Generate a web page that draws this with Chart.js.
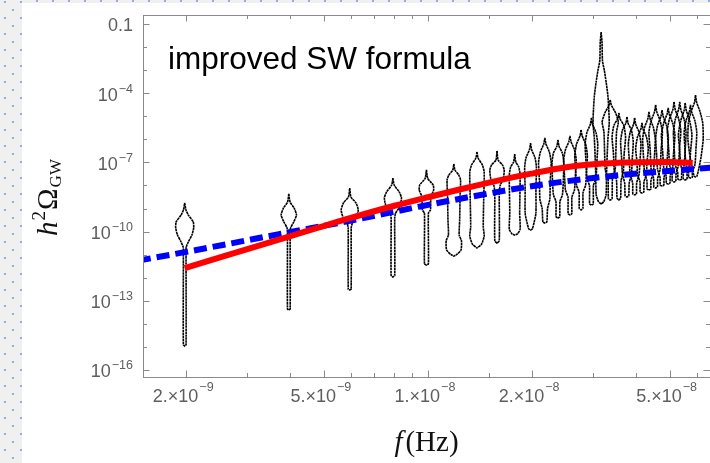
<!DOCTYPE html>
<html>
<head>
<meta charset="utf-8">
<script src="https://cdn.jsdelivr.net/npm/chart.js@4.4.0/dist/chart.umd.min.js"></script>
<style>
  html, body { margin: 0; padding: 0; background: #fff; }
  #wrap { width: 710px; height: 463px; }
</style>
</head>
<body>
<div id="wrap"><canvas id="chart" width="710" height="463"></canvas></div>
<script>
// PTA frequency bins (Hz), one violin each
const binFreqs = [1.98e-9, 3.96e-9, 5.94e-9, 7.92e-9, 9.90e-9, 1.188e-8, 1.386e-8, 1.584e-8, 1.782e-8, 1.98e-8,
  2.178e-8, 2.376e-8, 2.574e-8, 2.772e-8, 2.97e-8, 3.168e-8, 3.366e-8, 3.564e-8, 3.762e-8, 3.96e-8,
  4.158e-8, 4.356e-8, 4.554e-8, 4.752e-8, 4.95e-8, 5.148e-8, 5.346e-8, 5.544e-8, 5.742e-8, 5.94e-8];

// violin outlines, top to bottom: [log10 h^2 Omega, relative density width]
const violinProfiles = [
  [[-8.76,0],[-9.06,0.14],[-9.28,0.4],[-9.58,0.95],[-9.84,1.0],[-10.15,0.8],[-10.45,0.4],[-10.67,0.17],[-11.0,0.15],[-14.9,0.15],[-14.96,0]],
  [[-8.37,0],[-8.72,0.14],[-8.98,0.6],[-9.28,0.85],[-9.58,0.55],[-9.84,0.2],[-10.1,0.15],[-13.35,0.15],[-13.40,0]],
  [[-8.11,0],[-8.50,0.14],[-8.76,0.7],[-9.06,0.95],[-9.37,0.75],[-9.63,0.3],[-9.84,0.17],[-12.5,0.16],[-12.53,0]],
  [[-7.68,0],[-7.98,0.14],[-8.28,0.7],[-8.54,0.95],[-8.93,0.75],[-9.2,0.3],[-9.4,0.2],[-11.9,0.2],[-11.97,0]],
  [[-7.33,0],[-7.70,0.15],[-7.98,0.75],[-8.2,0.8],[-8.5,0.5],[-9.06,0.45],[-9.2,0.22],[-11.4,0.22],[-11.45,0]],
  [[-7.07,0],[-7.33,0.12],[-7.55,0.55],[-7.76,0.75],[-8.4,0.7],[-9.5,0.65],[-10.15,0.6],[-10.4,0.85],[-10.8,0.8],[-11.0,0.3],[-11.06,0]],
  [[-6.55,0],[-6.81,0.12],[-7.11,0.6],[-7.42,0.8],[-8.6,0.75],[-9.8,0.7],[-10.2,0.8],[-10.55,0.5],[-10.71,0]],
  [[-6.5,0],[-6.9,0.12],[-7.11,0.6],[-7.33,0.8],[-7.7,0.7],[-8.0,0.35],[-8.3,0.25],[-10.4,0.25],[-10.5,0]],
  [[-6.64,0],[-6.98,0.12],[-7.2,0.45],[-7.55,0.6],[-9.2,0.55],[-9.9,0.6],[-10.1,0.3],[-10.15,0]],
  [[-6.16,0],[-6.45,0.12],[-6.8,0.5],[-7.2,0.65],[-8.2,0.6],[-9.2,0.6],[-9.6,0.4],[-9.88,0.2],[-9.93,0]],
  [[-5.94,0],[-6.2,0.12],[-6.55,0.5],[-7.0,0.7],[-7.8,0.6],[-8.6,0.55],[-9.0,0.3],[-9.58,0.22],[-9.63,0]],
  [[-6.03,0],[-6.3,0.12],[-6.6,0.5],[-7.0,0.65],[-7.8,0.6],[-8.4,0.5],[-8.7,0.22],[-9.36,0.2],[-9.41,0]],
  [[-5.85,0],[-6.1,0.12],[-6.45,0.5],[-6.9,0.7],[-7.6,0.6],[-8.2,0.5],[-8.5,0.22],[-9.22,0.2],[-9.28,0]],
  [[-5.59,0],[-5.85,0.12],[-6.2,0.5],[-6.7,0.7],[-7.4,0.6],[-8.0,0.5],[-8.3,0.22],[-9.0,0.2],[-9.06,0]],
  [[-5.07,0],[-5.35,0.12],[-5.7,0.5],[-6.2,0.7],[-7.0,0.6],[-7.7,0.5],[-8.0,0.22],[-8.8,0.2],[-8.85,0]],
  [[-1.35,0],[-1.8,0.1],[-2.6,0.15],[-3.0,0.35],[-3.5,0.55],[-4.1,0.75],[-4.7,0.85],[-5.3,0.9],[-6.0,0.75],[-7.5,0.6],[-8.4,0.55],[-8.7,0.3],[-8.8,0]],
  [[-4.29,0],[-4.51,0.12],[-4.86,0.6],[-5.25,0.9],[-5.68,0.7],[-7.33,0.55],[-7.68,0.25],[-8.58,0.2],[-8.63,0]],
  [[-4.86,0],[-5.1,0.12],[-5.4,0.55],[-5.9,0.75],[-6.6,0.6],[-7.4,0.5],[-7.8,0.25],[-8.55,0.2],[-8.63,0]],
  [[-5.03,0],[-5.3,0.12],[-5.6,0.5],[-6.1,0.7],[-6.8,0.6],[-7.5,0.5],[-7.9,0.25],[-8.45,0.2],[-8.5,0]],
  [[-5.07,0],[-5.35,0.12],[-5.7,0.5],[-6.2,0.7],[-6.9,0.6],[-7.5,0.5],[-7.9,0.22],[-8.37,0.2],[-8.41,0]],
  [[-5.29,0],[-5.55,0.12],[-5.9,0.5],[-6.4,0.7],[-7.0,0.55],[-7.5,0.5],[-7.85,0.22],[-8.29,0.2],[-8.33,0]],
  [[-4.81,0],[-5.1,0.12],[-5.5,0.5],[-6.0,0.7],[-6.8,0.6],[-7.4,0.5],[-7.8,0.22],[-8.16,0.2],[-8.2,0]],
  [[-4.51,0],[-4.8,0.12],[-5.2,0.5],[-5.7,0.75],[-6.5,0.6],[-7.3,0.5],[-7.7,0.22],[-8.07,0.2],[-8.11,0]],
  [[-4.73,0],[-5.0,0.12],[-5.4,0.5],[-5.9,0.7],[-6.7,0.6],[-7.3,0.5],[-7.65,0.22],[-7.98,0.2],[-8.02,0]],
  [[-4.64,0],[-4.9,0.12],[-5.3,0.5],[-5.8,0.75],[-6.6,0.6],[-7.2,0.5],[-7.6,0.22],[-7.9,0.2],[-7.94,0]],
  [[-4.38,0],[-4.7,0.12],[-5.1,0.5],[-5.6,0.75],[-6.4,0.6],[-7.1,0.5],[-7.5,0.22],[-7.81,0.2],[-7.85,0]],
  [[-4.38,0],[-4.7,0.12],[-5.15,0.5],[-5.7,0.7],[-6.5,0.6],[-7.1,0.5],[-7.45,0.22],[-7.72,0.2],[-7.76,0]],
  [[-4.42,0],[-4.75,0.12],[-5.2,0.5],[-5.8,0.75],[-6.5,0.6],[-7.1,0.5],[-7.45,0.22],[-7.72,0.2],[-7.76,0]],
  [[-4.51,0],[-4.8,0.12],[-5.2,0.5],[-5.7,0.7],[-6.5,0.6],[-7.1,0.5],[-7.4,0.22],[-7.64,0.2],[-7.68,0]],
  [[-4.08,0],[-4.4,0.12],[-4.8,0.5],[-5.3,0.8],[-6.0,0.85],[-6.8,0.6],[-7.3,0.35],[-7.6,0.15],[-7.63,0]]
];

// red: improved sound-wave spectrum
const swFreqs = [1.98e-9, 3.94e-9, 5.95e-9, 8.0e-9, 1.0e-8, 1.2e-8, 1.58e-8, 1.97e-8, 2.57e-8, 3.2e-8, 4.0e-8, 5.0e-8, 5.83e-8];
const swLogOmega = [-11.58, -10.23, -9.42, -8.88, -8.51, -8.22, -7.80, -7.50, -7.19, -7.05, -6.99, -6.98, -7.03];

// blue dashed: reference power-law spectrum
const fitFreqs = [1.45e-9, 2.0e-9, 4.0e-9, 6.0e-9, 9.5e-9, 1.32e-8, 2.1e-8, 3.6e-8, 6.6e-8];
const fitLogOmega = [-11.26, -10.88, -10.02, -9.52, -8.91, -8.50, -7.98, -7.55, -7.23];

// axis ticks
const xTickValues = [2e-9, 5e-9, 1e-8, 2e-8, 5e-8];
const xTickMant = ['2.', '5.', '1.', '2.', '5.'];
const xTickExp = ['\u22129', '\u22129', '\u22128', '\u22128', '\u22128'];
const xMinorValues = [3e-9, 4e-9, 6e-9, 7e-9, 8e-9, 9e-9, 1.5e-8, 3e-8, 4e-8, 6e-8];
const yTickValues = [1e-1, 1e-4, 1e-7, 1e-10, 1e-13, 1e-16];
const yTickBase = ['0.1', '10', '10', '10', '10', '10'];
const yTickExp = ['', '\u22124', '\u22127', '\u221210', '\u221213', '\u221216'];
const yMinorValues = [1e-2, 1e-3, 1e-5, 1e-6, 1e-8, 1e-9, 1e-11, 1e-12, 1e-14, 1e-15];

const VIOLIN_HALF = 0.026; // decades of frequency at full density

const violinSets = violinProfiles.map((prof, i) => {
  const f = binFreqs[i];
  const right = prof.map(([l, w]) => ({ x: f * Math.pow(10, w * VIOLIN_HALF), y: Math.pow(10, l) }));
  const left = prof.slice().reverse().map(([l, w]) => ({ x: f * Math.pow(10, -w * VIOLIN_HALF), y: Math.pow(10, l) }));
  return {
    data: right.concat(left),
    showLine: true,
    borderColor: '#000',
    borderWidth: 1.6,
    borderDash: [2.5, 0.5],
    pointRadius: 0,
    fill: false,
    tension: 0.2,
    order: 3,
  };
});

const SANS = '"Liberation Sans", Arial, sans-serif';
const SERIF = '"Liberation Serif", "Times New Roman", serif';

function sciLabel(ctx, base, sup, x, baseY, supY, align) {
  ctx.font = '18px ' + SANS;
  const wb = ctx.measureText(base).width;
  ctx.font = '12.5px ' + SANS;
  const ws = sup ? ctx.measureText(sup).width + 1 : 0;
  const total = wb + ws;
  const x0 = align === 'right' ? x - total : x - total / 2;
  ctx.textAlign = 'left';
  ctx.textBaseline = 'alphabetic';
  ctx.font = '18px ' + SANS;
  ctx.fillText(base, x0, baseY);
  if (sup) {
    ctx.font = '12.5px ' + SANS;
    ctx.fillText(sup, x0 + wb + 1, supY);
  }
}

const decor = {
  id: 'decor',
  beforeDraw(chart) {
    const ctx = chart.ctx;
    ctx.save();
    ctx.fillStyle = '#fff';
    ctx.fillRect(0, 0, chart.width, chart.height);
    ctx.fillStyle = '#f0f0f0';
    ctx.fillRect(0, 0, 22, chart.height);
    ctx.fillRect(0, 0, chart.width, 3);
    ctx.fillStyle = '#92b1da';
    for (let y = 1; y < chart.height; y += 16) { ctx.fillRect(4, y, 2, 2); ctx.fillRect(20, y, 2, 2); }
    for (let y = 9; y < chart.height; y += 16) ctx.fillRect(12, y, 2, 2);
    for (let x = 36; x < chart.width; x += 16) ctx.fillRect(x, 0, 2, 2);
    ctx.restore();
  },
  afterDraw(chart) {
    const ctx = chart.ctx;
    const a = chart.chartArea;
    const xs = chart.scales.x, ys = chart.scales.y;
    ctx.save();
    // frame
    ctx.strokeStyle = '#8a8a8a';
    ctx.lineWidth = 1;
    ctx.strokeRect(Math.round(a.left) + 0.5, Math.round(a.top) + 0.5, a.right - a.left, a.bottom - a.top);
    // ticks
    ctx.beginPath();
    const xt = (v, len) => {
      const p = Math.round(xs.getPixelForValue(v)) + 0.5;
      ctx.moveTo(p, a.bottom); ctx.lineTo(p, a.bottom - len);
      ctx.moveTo(p, a.top); ctx.lineTo(p, a.top + len);
    };
    const yt = (v, len) => {
      const p = Math.round(ys.getPixelForValue(v)) + 0.5;
      ctx.moveTo(a.left, p); ctx.lineTo(a.left + len, p);
      ctx.moveTo(a.right, p); ctx.lineTo(a.right - len, p);
    };
    xTickValues.forEach(v => xt(v, 6.5));
    xMinorValues.forEach(v => xt(v, 4));
    yTickValues.forEach(v => yt(v, 6.5));
    yMinorValues.forEach(v => yt(v, 4));
    ctx.stroke();
    // tick labels
    ctx.fillStyle = '#5e5e5e';
    xTickValues.forEach((v, i) => {
      const p = xs.getPixelForValue(v);
      sciLabel(ctx, xTickMant[i] + '\u00d710', xTickExp[i], p - 3, a.bottom + 25, a.bottom + 14, 'center');
    });
    yTickValues.forEach((v, i) => {
      const p = ys.getPixelForValue(v);
      sciLabel(ctx, yTickBase[i], yTickExp[i], a.left - 10, p + 7.5, p - 0.5, 'right');
    });
    // x title: f(Hz)
    ctx.fillStyle = '#111';
    ctx.textBaseline = 'alphabetic';
    ctx.textAlign = 'left';
    ctx.font = 'italic 29px ' + SERIF;
    const wf = ctx.measureText('f').width;
    ctx.font = '29px ' + SERIF;
    const wh = ctx.measureText('(Hz)').width;
    const tx = (a.left + a.right) / 2 - (wf + wh + 3) / 2;
    ctx.font = 'italic 29px ' + SERIF;
    ctx.fillText('f', tx, a.bottom + 74);
    ctx.font = '29px ' + SERIF;
    ctx.fillText('(Hz)', tx + wf + 3, a.bottom + 74);
    // y title: h^2 Omega_GW
    ctx.translate(57, (a.top + a.bottom) / 2 + 1);
    ctx.rotate(-Math.PI / 2);
    const parts = [
      ['italic 29px ' + SERIF, 'h', 0],
      ['19px ' + SERIF, '2', -12],
      ['29px ' + SERIF, '\u03a9', 0],
      ['17px ' + SERIF, 'GW', 4],
    ];
    let tw = 0;
    parts.forEach(p => { ctx.font = p[0]; tw += ctx.measureText(p[1]).width + 1; });
    let cx = -tw / 2;
    parts.forEach(p => {
      ctx.font = p[0];
      ctx.fillText(p[1], cx, p[2]);
      cx += ctx.measureText(p[1]).width + 1;
    });
    ctx.restore();
    // annotation
    ctx.save();
    ctx.fillStyle = '#000';
    ctx.font = '31.5px ' + SANS;
    ctx.textAlign = 'left';
    ctx.textBaseline = 'alphabetic';
    ctx.fillText('improved SW formula', a.left + 25, a.top + 54);
    ctx.restore();
  }
};

const ctx = document.getElementById('chart').getContext('2d');
new Chart(ctx, {
  type: 'scatter',
  data: {
    datasets: [
      {
        label: 'improved SW',
        data: swFreqs.map((f, i) => ({ x: f, y: Math.pow(10, swLogOmega[i]) })),
        showLine: true,
        borderColor: '#ff0000',
        borderWidth: 6,
        borderCapStyle: 'butt',
        pointRadius: 0,
        cubicInterpolationMode: 'monotone',
        order: 1,
      },
      {
        label: 'power law',
        data: fitFreqs.map((f, i) => ({ x: f, y: Math.pow(10, fitLogOmega[i]) })),
        showLine: true,
        borderColor: '#0000ff',
        borderWidth: 6,
        borderDash: [13, 6],
        borderCapStyle: 'butt',
        pointRadius: 0,
        cubicInterpolationMode: 'monotone',
        order: 2,
      },
      ...violinSets,
    ],
  },
  options: {
    responsive: false,
    animation: false,
    devicePixelRatio: 1,
    layout: { padding: { left: 143, top: 15, right: 0, bottom: 86 } },
    plugins: { legend: { display: false }, tooltip: { enabled: false } },
    scales: {
      x: { type: 'logarithmic', min: 1.5e-9, max: 6.54e-8, display: false },
      y: { type: 'logarithmic', min: 4.97e-17, max: 0.245, display: false },
    },
  },
  plugins: [decor],
});
</script>
</body>
</html>
